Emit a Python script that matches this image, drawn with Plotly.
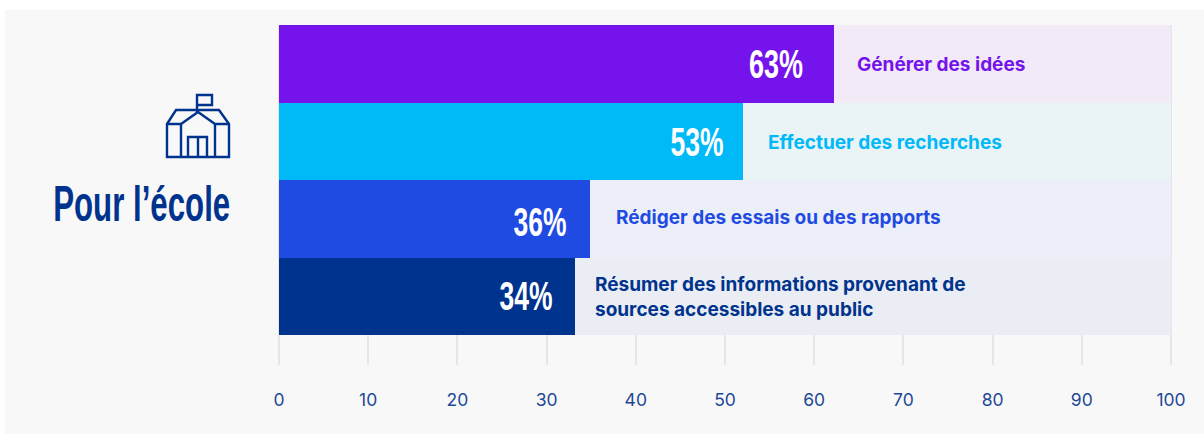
import plotly.graph_objects as go

categories = ["Générer des idées", "Effectuer des recherches", "Rédiger des essais ou des rapports",
              "Résumer des informations provenant de<br>sources accessibles au public"]
values = [62.2, 52.0, 34.9, 33.2]
labels = ["63%", "53%", "36%", "34%"]
full = [100, 100, 100, 100]
colors = ["#7413EB", "#00B9F7", "#1F4BE3", "#00338D"]
tints = ["#F2EAF7", "#EAF3F6", "#ECEFF7", "#EAEDF3"]
ticks = [0, 10, 20, 30, 40, 50, 60, 70, 80, 90, 100]
NAVY = "#00338D"
W, H = 1204, 436

def px(x): return x / W
def py(y): return 1 - y / H
def path(points, close=False):
    s = "M" + " L".join(f"{px(x):.5f},{py(y):.5f}" for x, y in points)
    return s + (" Z" if close else "")

fig = go.Figure()
fig.add_bar(y=categories, x=full, orientation="h", marker=dict(color=tints, line_width=0), hoverinfo="skip")
fig.add_bar(y=categories, x=values, orientation="h", marker=dict(color=colors, line_width=0))

label_shift = [-58, -45.5, -50.5, -49.5]
label_yshift = [0, -1, -3, 0]
cat_shift = [21, 23, 24, 18]
cat_yshift = [-1, -1, 1, -1]
for c, v, l, col, ls, ly, cs, cy in zip(categories, values, labels, colors, label_shift, label_yshift, cat_shift, cat_yshift):
    fig.add_annotation(x=v, y=c, text=f"<b>{l}</b>", showarrow=False, xanchor="center", xshift=ls, yshift=ly,
                       font=dict(family="Liberation Sans", size=40, color="white"))
    fig.add_annotation(x=v, y=c, text=f"<b>{c}</b>", showarrow=False, xanchor="left", xshift=cs, yshift=cy, align="left",
                       font=dict(family="Inter", size=19, color=col))

fig.add_annotation(xref="paper", yref="paper", x=px(141.5), y=py(204), text="<b>Pour l’école</b>", showarrow=False,
                   xanchor="center", yanchor="middle",
                   font=dict(family="Liberation Sans", size=50, color=NAVY))

shapes = [dict(type="rect", xref="paper", yref="paper", x0=px(5), x1=px(1204), y0=py(434), y1=py(10),
               fillcolor="#F8F8F8", line_width=0, layer="below")]
icon = [
    ([(197, 112), (197, 95), (212, 95), (212, 105), (197, 105)], False),
    ([(167, 124), (176, 110), (219, 110), (229, 124), (229, 157), (167, 157)], True),
    ([(167, 124), (181, 124), (198, 112), (215, 124), (229, 124)], False),
    ([(181, 124), (181, 157)], False),
    ([(215, 124), (215, 157)], False),
    ([(188, 157), (188, 137), (207, 137), (207, 157)], False),
    ([(198, 137), (198, 157)], False),
]
for pts, closed in icon:
    shapes.append(dict(type="path", xref="paper", yref="paper", path=path(pts, closed),
                       line=dict(color=NAVY, width=2.4), layer="above"))

pad = 0.2
pad_px = pad * 892 / 100
fig.update_layout(
    width=W, height=H, margin=dict(l=0, r=0, t=0, b=0, autoexpand=False), showlegend=False, barmode="overlay", bargap=0,
    paper_bgcolor="white", plot_bgcolor="rgba(0,0,0,0)", shapes=shapes,
    xaxis=dict(domain=[px(279 - pad_px), px(1171 + pad_px)], range=[-pad, 100 + pad], tickvals=ticks, showgrid=True,
               gridcolor="#E6E6E6", gridwidth=1.5, zeroline=False, showline=False, ticks="", ticklabelstandoff=22,
               tickfont=dict(family="Inter", size=17.5, color="#1E4896")),
    yaxis=dict(domain=[py(365), py(25)], range=[3.5 + 30 / 77.5, -0.5], showticklabels=False, showgrid=False,
               zeroline=False, showline=False, ticks=""),
)
# The narrow display lettering has no installed equivalent: fit the real text to the reference widths.
post = """
document.documentElement.style.overflow='hidden';
document.body.style.margin='0';
const fit={'63%':54,'53%':53,'36%':53,'34%':53,'Pour l’école':177};
document.querySelectorAll('.annotation-text').forEach(t=>{
  const w=fit[t.textContent];
  if(w){t.setAttribute('textLength',w);t.setAttribute('lengthAdjust','spacingAndGlyphs');}
});
"""
fig.write_html("out.html", post_script=post, config={"displayModeBar": False})
